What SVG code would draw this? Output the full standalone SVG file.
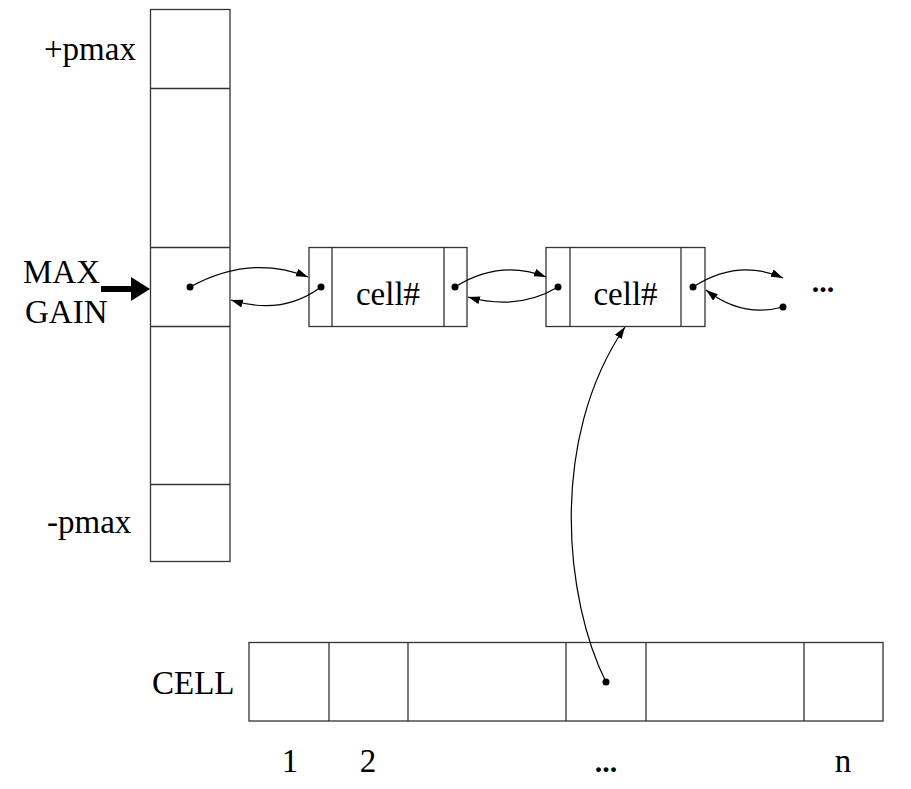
<svg xmlns="http://www.w3.org/2000/svg" width="911" height="789" viewBox="0 0 911 789">
<style>
  .box { fill: none; stroke: #333; stroke-width: 1.3; }
  .ln { stroke: #333; stroke-width: 1.3; }
  .t { font-family: "Liberation Serif", "Times New Roman", serif; font-size: 33px; fill: #000; }
  .dots { font-family: "Liberation Serif", "Times New Roman", serif; font-size: 30px; font-weight: bold; fill: #000; }
  .c { fill: none; stroke: #000; stroke-width: 1.2; }
  .dot { fill: #000; }
</style>
<defs>
  <marker id="ah" markerUnits="userSpaceOnUse" markerWidth="13" markerHeight="9" refX="12" refY="4" orient="auto">
    <path d="M0,0 L12,4 L0,8 z" fill="#000"/>
  </marker>
</defs>
<rect width="911" height="789" fill="#fff"/>

<g id="gain-table">
  <rect class="box" x="150.5" y="9.5" width="79.5" height="552"/>
  <line class="ln" x1="150.5" y1="88.5" x2="230" y2="88.5"/>
  <line class="ln" x1="150.5" y1="247.5" x2="230" y2="247.5"/>
  <line class="ln" x1="150.5" y1="326.5" x2="230" y2="326.5"/>
  <line class="ln" x1="150.5" y1="484.5" x2="230" y2="484.5"/>
  <text class="t" x="44" y="60">+pmax</text>
  <text class="t" x="47" y="533">-pmax</text>
  <circle class="dot" cx="190" cy="287" r="3.5"/>
</g>

<g id="max-gain">
  <text class="t" x="23" y="283">MAX</text>
  <text class="t" x="25" y="323">GAIN</text>
  <rect x="101" y="286" width="31" height="6" fill="#000"/>
  <polygon points="131,277 150,289 131,301" fill="#000"/>
</g>

<g id="node1">
  <rect class="box" x="309" y="247.5" width="158" height="79"/>
  <line class="ln" x1="332" y1="247.5" x2="332" y2="326.5"/>
  <line class="ln" x1="444" y1="247.5" x2="444" y2="326.5"/>
  <text class="t" x="388" y="305" text-anchor="middle">cell#</text>
  <circle class="dot" cx="321" cy="287" r="3.5"/>
  <circle class="dot" cx="455" cy="287" r="3.5"/>
</g>

<g id="node2">
  <rect class="box" x="546" y="247.5" width="159" height="79"/>
  <line class="ln" x1="570" y1="247.5" x2="570" y2="326.5"/>
  <line class="ln" x1="681" y1="247.5" x2="681" y2="326.5"/>
  <text class="t" x="625.5" y="305" text-anchor="middle">cell#</text>
  <circle class="dot" cx="558" cy="287" r="3.5"/>
  <circle class="dot" cx="693" cy="287" r="3.5"/>
</g>

<g id="continuation">
  <circle class="dot" cx="783" cy="307" r="3.5"/>
  <text class="dots" x="823" y="292" text-anchor="middle">...</text>
</g>

<g id="cell-array">
  <rect class="box" x="249" y="642.5" width="634" height="78.5"/>
  <line class="ln" x1="329" y1="642.5" x2="329" y2="721"/>
  <line class="ln" x1="408" y1="642.5" x2="408" y2="721"/>
  <line class="ln" x1="566" y1="642.5" x2="566" y2="721"/>
  <line class="ln" x1="646" y1="642.5" x2="646" y2="721"/>
  <line class="ln" x1="804" y1="642.5" x2="804" y2="721"/>
  <text class="t" x="152" y="694">CELL</text>
  <text class="t" x="290" y="772" text-anchor="middle">1</text>
  <text class="t" x="368" y="772" text-anchor="middle">2</text>
  <text class="dots" x="606" y="772" text-anchor="middle">...</text>
  <text class="t" x="843" y="772" text-anchor="middle">n</text>
  <circle class="dot" cx="606" cy="682" r="3.5"/>
</g>

<g id="connectors">
  <path class="c" d="M190,287 Q250,254 308,277" marker-end="url(#ah)"/>
  <path class="c" d="M321,287 Q282,316 231,300" marker-end="url(#ah)"/>
  <path class="c" d="M455,287 Q500,259 546,277" marker-end="url(#ah)"/>
  <path class="c" d="M558,287 Q518,311 468,297" marker-end="url(#ah)"/>
  <path class="c" d="M693,287 Q738,258 783,278" marker-end="url(#ah)"/>
  <path class="c" d="M783,307 Q742,318 706,290" marker-end="url(#ah)"/>
  <path class="c" d="M606,682 C565,600 548,440 625,327" marker-end="url(#ah)"/>
</g>
</svg>
